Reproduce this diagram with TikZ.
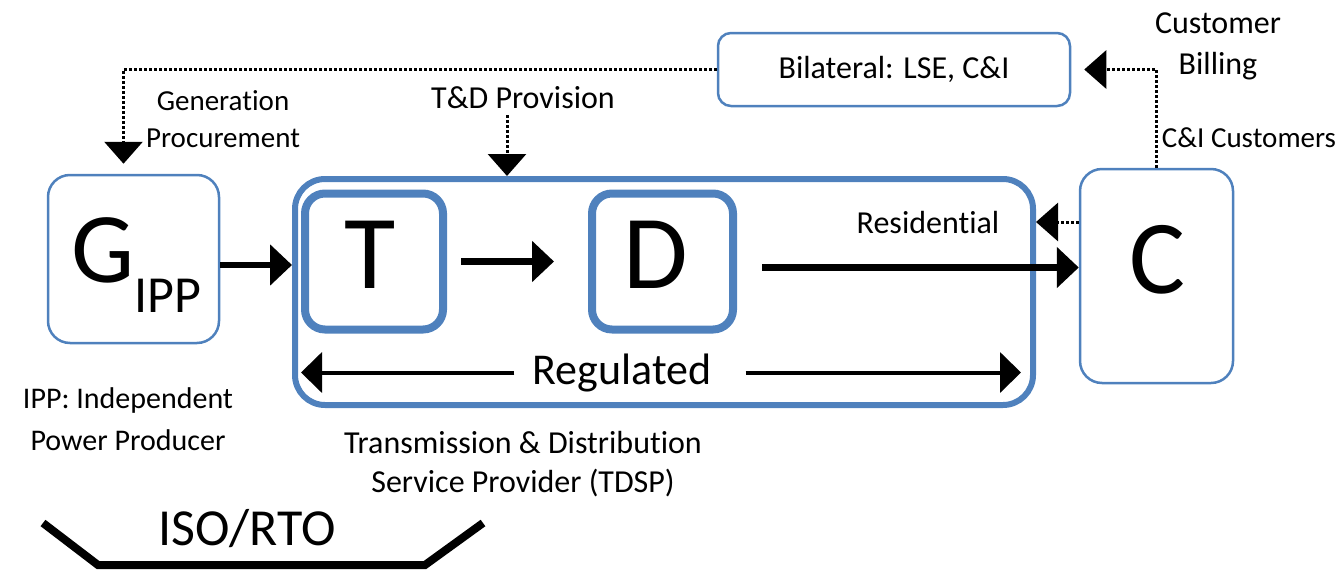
\documentclass[tikz,border=0pt]{standalone}
\usepackage{fontspec}
\setmainfont{Carlito}[Ligatures=CommonOff]
\usetikzlibrary{arrows.meta,positioning}
\definecolor{boxblue}{RGB}{79,129,189}
\newcommand{\setfs}[2]{\fontsize{#1pt}{#2pt}\selectfont}
\tikzset{
  thinbox/.style={draw=boxblue, line width=2.5pt, rounded corners=22pt, inner sep=0pt},
  thickbox/.style={draw=boxblue, line width=8pt, rounded corners=20pt, inner sep=0pt},
  flow/.style={line width=6.5pt, -{Triangle[length=22pt,width=40pt]}},
  dotflow/.style={line width=3pt, dash pattern=on 2.5pt off 2.5pt, -{Triangle[length=22pt,width=38pt]}},
  regflow/.style={line width=4pt, -{Triangle[length=21pt,width=40pt]}},
  lbl/.style={inner sep=0pt, align=center},
  bigletter/.style={inner sep=0pt, font=\setfs{105}{105}},
}
\begin{document}
\begin{tikzpicture}[x=1pt,y=-1pt]
\useasboundingbox (0,0) rectangle (1337,570);
% Boxes
\node[thinbox, minimum width=171pt, minimum height=168pt] (gipp) at (133.5,259) {};
\node[thickbox, line width=6pt, rounded corners=30pt, minimum width=738pt, minimum height=226pt] (tdsp) at (664,292) {};
\node[thickbox, minimum width=138pt, minimum height=136pt] (tnode) at (374,261.5) {};
\node[thickbox, minimum width=141pt, minimum height=136pt] (dnode) at (662.5,261.5) {};
\node[thinbox, minimum width=153pt, minimum height=214pt] (cnode) at (1156.5,276) {};
\node[thinbox, rounded corners=13pt, minimum width=352pt, minimum height=73pt, font=\setfs{32}{32}] (bilat) at (894,69.5) {Bilateral: LSE, C\&I};
% Letters
\node[anchor=base west, inner sep=0pt] (glet) at (71,282) {\setfs{100}{100}G\raisebox{-30pt}{\setfs{52}{52}IPP}};
\node[bigletter, anchor=base] (tlet) at (370,288) {T};
\node[bigletter, anchor=base] (dlet) at (656,288) {D};
\node[bigletter, anchor=base] (clet) at (1157,293) {C};
% Labels (base = last line)
\node[lbl, anchor=base, font=\setfs{29}{37}] (genlbl) at (223,147) {Generation\\Procurement};
\node[lbl, anchor=base, font=\setfs{32}{32}] (tdlbl) at (523,108) {T\&D Provision};
\node[lbl, anchor=base, font=\setfs{32}{41}] (billlbl) at (1218,74) {Customer\\Billing};
\node[lbl, anchor=base, font=\setfs{29}{29}] (cilbl) at (1249,147) {C\&I Customers};
\node[lbl, anchor=base, font=\setfs{32}{32}] (reslbl) at (928,233) {Residential};
\node[lbl, anchor=base, font=\setfs{44}{44}] (reglbl) at (622,384) {Regulated};
\node[lbl, anchor=base, font=\setfs{30}{42}] (ipplbl) at (128,450) {IPP: Independent\\Power Producer};
\node[lbl, anchor=base, font=\setfs{32}{39}] (tdsplbl) at (523,492) {Transmission \& Distribution\\Service Provider (TDSP)};
\node[lbl, anchor=base, font=\setfs{52}{52}] (isolbl) at (247,545) {ISO/RTO};
% Energy flow
\draw[flow] ([yshift=-6pt]gipp.east) -- ([yshift=-6pt]gipp.east -| tdsp.west);
\draw[flow, shorten <=14pt, shorten >=34pt] (tnode) -- (dnode);
\draw[flow, shorten <=25pt] ([yshift=-6pt]dnode.east) -- ([yshift=-6pt]dnode.east -| cnode.west);
% Regulated span
\draw[regflow, shorten <=18pt, shorten >=9pt] (reglbl.west) -- (reglbl.west -| tdsp.west);
\draw[regflow, shorten <=34pt, shorten >=15pt] (reglbl.east) -- (reglbl.east -| tdsp.east);
% Money / contracts
\draw[dotflow] (reslbl -| cnode.west) -- (reslbl -| tdsp.east);
\draw[dotflow, shorten >=13pt] (cnode.north) |- (bilat.east);
\draw[dotflow, shorten >=10pt] (bilat.west) -| ([xshift=-10pt]gipp.north);
\coordinate (tdfrom) at (507,115);
\draw[dotflow] (tdfrom) -- (tdfrom |- tdsp.north);
% ISO/RTO bracket
\draw[line width=8pt] (43,523) -- (98,565) -- (425,565) -- (483,523);
\end{tikzpicture}
\end{document}
